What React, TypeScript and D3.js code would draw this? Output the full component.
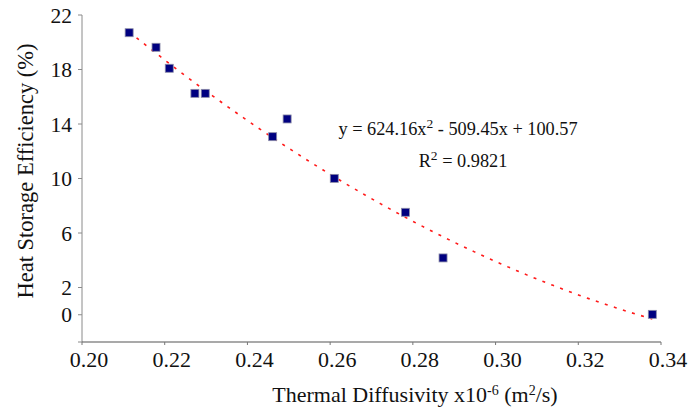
import React from "react";
import * as d3 from "d3";

const diffusivity = [0.2114, 0.2179, 0.2211, 0.2273, 0.2298, 0.2461, 0.2496, 0.2610, 0.2782, 0.2873, 0.3379];
const efficiency = [20.70, 19.63, 18.09, 16.25, 16.25, 13.07, 14.37, 10.01, 7.52, 4.17, 0.03];
const xTicks = [0.20, 0.22, 0.24, 0.26, 0.28, 0.30, 0.32, 0.34];
const yTickLabels = [22, 18, 14, 10, 6, 2, 0];
const yTickMarks = [22, 18, 14, 10, 6, 2, 0, -2];
const fitCoef = [624.16, -509.45, 100.57];
const rSquared = "0.9821";

const W = 689;
const H = 412;
const FONT = "'Liberation Serif', 'Times New Roman', serif";

export default function App() {
  const x = d3.scaleLinear().domain([0.2, 0.34]).range([82, 661]);
  const y = d3.scaleLinear().domain([-2, 22]).range([342, 15]);

  const xmin = d3.min(diffusivity)!;
  const xmax = d3.max(diffusivity)!;
  const fitPts = d3.range(0, 101).map((i) => {
    const xv = xmin + ((xmax - xmin) * i) / 100;
    return [xv, fitCoef[0] * xv * xv + fitCoef[1] * xv + fitCoef[2]] as [number, number];
  });
  const line = d3
    .line<[number, number]>()
    .x((d) => x(d[0]))
    .y((d) => y(d[1]));

  const pts = diffusivity.map((d, i) => ({ x: d, y: efficiency[i] }));

  return (
    <svg
      width={W}
      height={H}
      style={{ position: "absolute", left: 0, top: 0, background: "#fff" }}
      fontFamily={FONT}
    >
      {/* Y axis */}
      <line x1={x(0.2)} x2={x(0.2)} y1={y(22)} y2={y(-2)} stroke="#8a8a8a" strokeWidth={1} />
      {yTickMarks.map((t) => (
        <line key={"yt" + t} x1={x(0.2) - 4} x2={x(0.2)} y1={y(t)} y2={y(t)} stroke="#8a8a8a" strokeWidth={1} />
      ))}
      {yTickLabels.map((t) => (
        <text key={"yl" + t} x={72} y={y(t)} dy="0.36em" textAnchor="end" fontSize={21.5} fill="#111">
          {t}
        </text>
      ))}
      {/* X axis */}
      <line x1={x(0.2)} x2={x(0.34)} y1={y(-2)} y2={y(-2)} stroke="#555" strokeWidth={1.2} />
      {xTicks.map((t) => (
        <line key={"xt" + t} x1={x(t)} x2={x(t)} y1={y(-2)} y2={y(-2) + 3} stroke="#777" strokeWidth={1} />
      ))}
      {xTicks.map((t) => (
        <text key={"xl" + t} x={x(t) + 7} y={367} textAnchor="middle" fontSize={22} fill="#111">
          {d3.format(".2f")(t)}
        </text>
      ))}
      {/* Axis titles */}
      <text x={415} y={402} textAnchor="middle" fontSize={22} fill="#111">
        Thermal Diffusivity x10
        <tspan dy={-7} fontSize={14}>-6</tspan>
        <tspan dy={7}> (m</tspan>
        <tspan dy={-7} fontSize={14}>2</tspan>
        <tspan dy={7}>/s)</tspan>
      </text>
      <text
        transform={`translate(33, ${171}) rotate(-90)`}
        textAnchor="middle"
        fontSize={22.5}
        fill="#111"
      >
        Heat Storage Efficiency (%)
      </text>
      {/* Trendline */}
      <path d={line(fitPts) || ""} fill="none" stroke="#ff1a1a" strokeWidth={1.6} strokeDasharray="3 6.5" />
      {/* Points */}
      {pts.map((p, i) => (
        <rect
          key={"p" + i}
          x={x(p.x) - 4}
          y={y(p.y) - 4}
          width={8}
          height={8}
          fill="#000080"
          stroke="#8c8ca8"
          strokeWidth={0.8}
        />
      ))}
      {/* Equation */}
      <text x={458} y={135} textAnchor="middle" fontSize={18.3} fill="#111">
        y = {fitCoef[0]}x
        <tspan dy={-7} fontSize={13.5}>2</tspan>
        <tspan dy={7}> - {Math.abs(fitCoef[1])}x + {fitCoef[2]}</tspan>
      </text>
      <text x={463} y={167} textAnchor="middle" fontSize={18.3} fill="#111">
        R<tspan dy={-7} fontSize={13.5}>2</tspan>
        <tspan dy={7}> = {rSquared}</tspan>
      </text>
    </svg>
  );
}
